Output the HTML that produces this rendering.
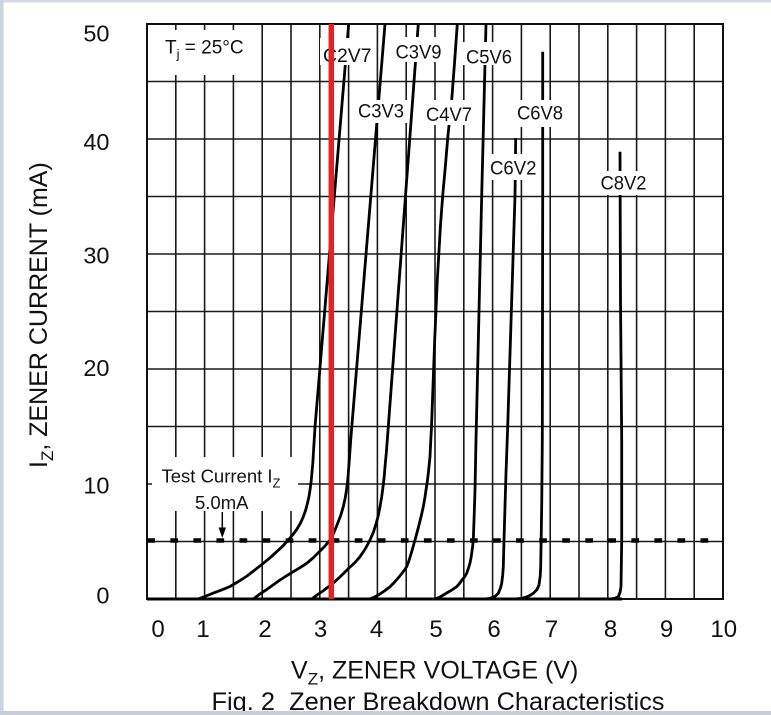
<!DOCTYPE html>
<html>
<head>
<meta charset="utf-8">
<style>
  html, body { margin: 0; padding: 0; background: #ffffff; }
  body { width: 771px; height: 715px; overflow: hidden; }
  svg { display: block; }
  text { font-family: "Liberation Sans", Arial, sans-serif; fill: #111; }
</style>
</head>
<body>
<svg width="771" height="715" viewBox="0 0 771 715" xmlns="http://www.w3.org/2000/svg">
  <rect x="0" y="0" width="771" height="715" fill="#ffffff"/>
  <!-- frame strips -->
  <rect x="0" y="0" width="771" height="2.5" fill="#d3dae4"/>
  <rect x="0" y="0" width="3.5" height="715" fill="#cad3e0"/>
  <rect x="0" y="711" width="771" height="4" fill="#c6cdd7"/>

  <!-- grid -->
  <path d="M175.8 24V599 M204.6 24V599 M233.4 24V599 M262.2 24V599 M291 24V599 M319.8 24V599 M348.6 24V599 M377.4 24V599 M406.2 24V599 M435 24V599 M463.8 24V599 M492.6 24V599 M521.4 24V599 M550.2 24V599 M579 24V599 M607.8 24V599 M636.6 24V599 M665.4 24V599 M694.2 24V599
           M147 81.5H723 M147 139H723 M147 196.5H723 M147 254H723 M147 311.5H723 M147 369H723 M147 426.5H723 M147 484H723 M147 541.5H723"
        stroke="#1a1a1a" stroke-width="1.6" fill="none"/>
  <rect x="147" y="24" width="576" height="575" fill="none" stroke="#111" stroke-width="2"/>
  <line x1="147" y1="599" x2="622" y2="599" stroke="#000" stroke-width="3"/>

  <!-- dashed test current line -->
  <line x1="147.3" y1="540.5" x2="708.2" y2="540.5" stroke="#000" stroke-width="4.5" stroke-dasharray="7.7 15.35"/>

  <!-- curves -->
  <g fill="none" stroke="#000" stroke-width="2.8" stroke-linejoin="round" stroke-linecap="butt">
    <polyline points="147,599 198,599 206,596 214,592.8 222,589.8 230,586.5 238.5,581.5 247,576 255,569.8 263.3,563.3 270,557.8 276,552.3 282.5,546.3 288.3,540 293,534.5 297,529 300.5,523 303.3,516.7 305.7,510 307.5,503 309,496.5 310,490 311.2,481 312,472 312.8,463.5 313.3,455 315,427 348.7,24"/>
    <polyline points="200,599 253.3,599 259.5,594.3 266,590 273,585 280,580 286.5,575.8 293,571.8 300,567.7 306.7,563.3 313,558 319,552 325,546 330,540 334,532.5 337,525 340.5,516 343.3,506.7 345.2,498 346.5,490 347.6,481.5 348.3,473.3 349.6,456 350.7,440 385,24"/>
    <polyline points="260,599 311.7,599 317,595 323,591 330,585.5 336.7,580 343,574 349,568 355,562.5 360,556.7 365.5,548.5 370,540 373.5,532 376,524 378.3,515.5 380,506.7 381.7,496.8 383,487 384.2,476.8 385,466.7 386.3,453 387.3,440 418.3,24"/>
    <polyline points="320,599 370,599 375,596.8 380,594 385,590.5 390,586.7 394.7,582 399,577 403,572 406.7,566.7 409,560.5 411,554 413,547 415,540 417.3,531.5 419.5,523 421.5,514.8 423.3,506.7 424.8,498.3 426,490 427.3,481.5 428.3,473.3 430,456.5 430.8,440 431.5,426.7 432.5,400 434.7,340 437.3,280 440.5,225 442.7,195.7 445.2,168 448,135 451.7,100 454.6,62 457.3,24"/>
    <polyline points="400,599 435,599 440,597 445,594 451,590.5 456.7,586.7 459.5,583.5 462,580 464.5,577 466.7,573.3 468.5,568 470,563 471,558 471.7,553.3 472.6,546.5 473.3,540 474.2,515 475,490 476,440 481.7,195.7 486,24"/>
    <polyline points="470,599 485,599 490,598.3 495,596.5 498.3,593.3 500.5,588 501.7,583.3 502.7,575 503.3,566.7 504,540 506,473.3 507.7,426.7 515,195.7 515.7,138"/>
    <polyline points="505,599 515,599 521.7,598.3 528,596.5 533.3,593.3 537,589.5 539,585 540.2,576 540.7,566.7 541.7,506.7 542.3,440 542.7,195.7 542.7,51.7"/>
    <polyline points="590,599 610,599 615,598.3 618.3,596.7 620,592.5 621,586.7 621.7,540 621.7,440 620.5,300 620,151.7"/>
  </g>

  <!-- white label boxes -->
  <g fill="#ffffff">
    <rect x="150" y="30" width="100" height="45"/>
    <rect x="152" y="457" width="146" height="54"/>
    <rect x="320" y="38" width="53" height="27"/>
    <rect x="393" y="37" width="51" height="25"/>
    <rect x="463" y="42" width="52" height="23"/>
    <rect x="355" y="100" width="52" height="23"/>
    <rect x="423" y="100" width="52" height="25"/>
    <rect x="514" y="100" width="52" height="27"/>
    <rect x="487" y="154" width="53" height="26"/>
    <rect x="598" y="171" width="52" height="24"/>
  </g>

  <!-- labels -->
  <g font-size="19">
    <text x="323" y="62" textLength="48.5" lengthAdjust="spacingAndGlyphs">C2V7</text>
    <text x="395.5" y="58.5" textLength="46" lengthAdjust="spacingAndGlyphs">C3V9</text>
    <text x="466" y="63.5" textLength="46" lengthAdjust="spacingAndGlyphs">C5V6</text>
    <text x="358" y="117.5" textLength="46" lengthAdjust="spacingAndGlyphs">C3V3</text>
    <text x="426" y="121" textLength="46" lengthAdjust="spacingAndGlyphs">C4V7</text>
    <text x="517" y="119.5" textLength="46" lengthAdjust="spacingAndGlyphs">C6V8</text>
    <text x="490" y="174.5" textLength="46.5" lengthAdjust="spacingAndGlyphs">C6V2</text>
    <text x="600.5" y="189.5" textLength="46" lengthAdjust="spacingAndGlyphs">C8V2</text>
    <text x="165" y="53.5">T<tspan font-size="13" dy="5">j</tspan><tspan dy="-5"> = 25°C</tspan></text>
  </g>
  <text x="161.5" y="482.3" font-size="18.5">Test Current I<tspan font-size="13" dy="5">Z</tspan></text>
  <text x="195" y="509" font-size="18.5">5.0mA</text>

  <!-- arrow -->
  <line x1="222.3" y1="512" x2="222.3" y2="530" stroke="#000" stroke-width="1.5"/>
  <polygon points="218.6,527.5 226,527.5 222.3,538" fill="#000"/>

  <!-- red line -->
  <line x1="331.3" y1="24" x2="331.3" y2="599" stroke="#e32228" stroke-width="5.5"/>

  <!-- y tick labels -->
  <g font-size="23.5" text-anchor="end">
    <text x="109.5" y="41.7">50</text>
    <text x="109.5" y="150">40</text>
    <text x="109.5" y="263.3">30</text>
    <text x="109.5" y="376">20</text>
    <text x="109.5" y="493.3">10</text>
    <text x="109.5" y="603.3">0</text>
  </g>

  <!-- x tick labels -->
  <g font-size="24" text-anchor="middle">
    <text x="158" y="637">0</text>
    <text x="203" y="637">1</text>
    <text x="265" y="637">2</text>
    <text x="320.5" y="637">3</text>
    <text x="376.5" y="637">4</text>
    <text x="436" y="637">5</text>
    <text x="494" y="637">6</text>
    <text x="551.5" y="637">7</text>
    <text x="610.5" y="637">8</text>
    <text x="666.5" y="637">9</text>
    <text x="723.7" y="637">10</text>
  </g>

  <!-- axis titles -->
  <text x="291" y="678.3" font-size="25">V<tspan font-size="17" dy="6">Z</tspan><tspan dy="-6">, ZENER VOLTAGE (V)</tspan></text>
  <text transform="translate(47,468) rotate(-90)" x="0" y="0" font-size="25">I<tspan font-size="17" dy="6">Z</tspan><tspan dy="-6">, ZENER CURRENT (mA)</tspan></text>

  <!-- caption -->
  <text x="211.5" y="710" font-size="25" textLength="453" lengthAdjust="spacingAndGlyphs">Fig. 2&#160; Zener Breakdown Characteristics</text>
  <rect x="0" y="711" width="771" height="4" fill="#c6cdd7"/>
</svg>
</body>
</html>
